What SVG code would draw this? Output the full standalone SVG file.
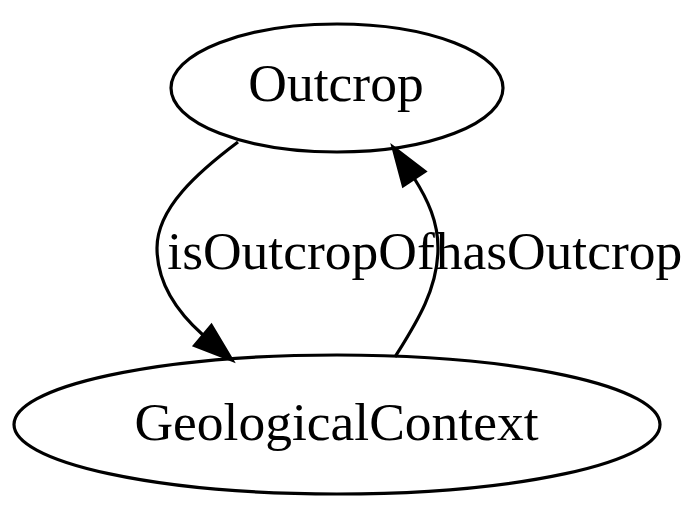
<svg xmlns="http://www.w3.org/2000/svg" width="700" height="509" viewBox="0 0 700 509">
<style>
.node ellipse{fill:none;stroke:#000;stroke-width:3.2}
.edge path{fill:none;stroke:#000;stroke-width:3.2}
.edge polygon{fill:#000;stroke:#000;stroke-width:3.2}
text{font-family:"Liberation Serif","Times New Roman",serif;font-size:53.5px;fill:#000;text-anchor:middle}
</style>
<rect width="700" height="509" fill="#fff"/>
<g id="node-Outcrop" class="node">
<ellipse cx="337" cy="88" rx="166" ry="64"/>
<text x="336" y="101">Outcrop</text>
</g>
<g id="node-GeologicalContext" class="node">
<ellipse cx="337" cy="424.5" rx="323" ry="69.5"/>
<text x="336.5" y="440">GeologicalContext</text>
</g>
<g id="edges">
<g id="edge-isOutcropOf" class="edge">
<path d="M238,142 C198,172 157,208 157,248 C157,282 176,311 203,335"/>
<polygon points="232,360 211.4,325.6 194.6,345.6"/>
<text x="301" y="269">isOutcropOf</text>
</g>
<g id="edge-hasOutcrop" class="edge">
<path d="M395,357 C415,325 438,290 438,248 C438,222 428,200 414,178"/>
<polygon points="393,147 424.9,171.4 403.3,185.8"/>
<text x="559" y="269">hasOutcrop</text>
</g>
</g>
</svg>
